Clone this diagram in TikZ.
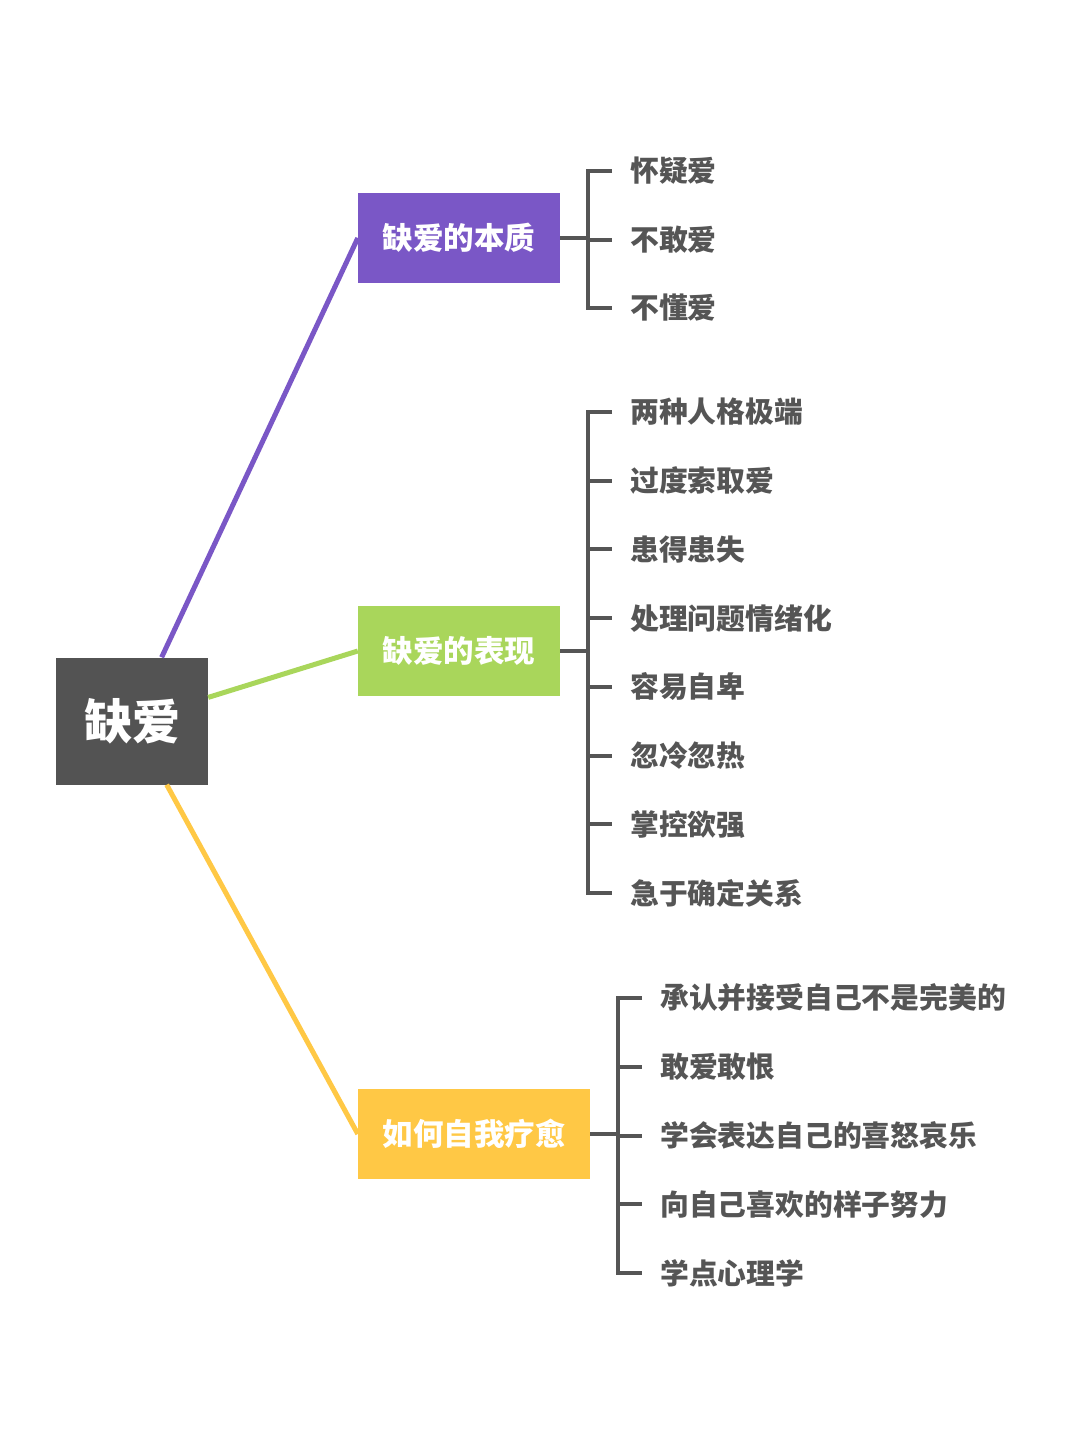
\documentclass[tikz,border=0pt]{standalone}
\usepackage{fontspec}
\setmainfont{Noto Sans CJK SC}

\definecolor{rootgray}{HTML}{535353}
\definecolor{itemgray}{HTML}{555555}
\definecolor{lovepurple}{HTML}{7A57C6}
\definecolor{lovegreen}{HTML}{A9D65B}
\definecolor{loveyellow}{HTML}{FFC845}

\tikzset{
	topic/.style = {fill = #1, text = white, inner sep = 0pt,
		minimum height = 90pt, font = \bfseries\fontsize{30.5}{30.5}\selectfont},
	item/.style = {anchor = west, text = itemgray, inner xsep = 18pt, inner ysep = 0pt,
		font = \bfseries\fontsize{28.8}{28.8}\selectfont},
	branch/.style = {draw = #1, line width = 5pt},
	bracket/.style = {draw = itemgray, line width = 4pt}
}

\begin{document}
\begin{tikzpicture}[x = 1pt, y = -1pt]

	\useasboundingbox (0, 0) rectangle (1080, 1440);

	% Root and topics

	\node [fill = rootgray, text = white, minimum width = 152pt, minimum height = 127pt,
		font = \bfseries\fontsize{48}{48}\selectfont] (root) at (132, 721) {缺爱};

	\node [topic = lovepurple, minimum width = 202pt] (essence) at (459, 238) {缺爱的本质};
	\node [topic = lovegreen, minimum width = 202pt] (signs) at (459, 651) {缺爱的表现};
	\node [topic = loveyellow, minimum width = 232pt] (heal) at (474, 1134) {如何自我疗愈};

	% Branches

	\draw [branch = lovepurple] (root) -- (essence.west);
	\draw [branch = lovegreen] (root) -- (signs.west);
	\draw [branch = loveyellow] (root) -- (heal.west);

	% Items

	\foreach \t [count = \i] in {怀疑爱, 不敢爱, 不懂爱}
		\node [item] (essence\i) at (612, {171 + 68.5 * (\i - 1)}) {\t};

	\foreach \t [count = \i] in {两种人格极端, 过度索取爱, 患得患失, 处理问题情绪化,
			容易自卑, 忽冷忽热, 掌控欲强, 急于确定关系}
		\node [item] (signs\i) at (612, {412 + 68.7 * (\i - 1)}) {\t};

	\foreach \t [count = \i] in {承认并接受自己不是完美的, 敢爱敢恨, 学会表达自己的喜怒哀乐,
			向自己喜欢的样子努力, 学点心理学}
		\node [item] (heal\i) at (642, {998 + 68.75 * (\i - 1)}) {\t};

	% Brackets

	\coordinate (essenceSpine) at ([xshift = 28pt] essence.east);
	\draw [bracket] (essence.east) -- (essenceSpine);
	\draw [bracket] (essence1.west) -| (essenceSpine) |- (essence3.west);
	\draw [bracket] (essenceSpine |- essence2.west) -- (essence2.west);

	\coordinate (signsSpine) at ([xshift = 28pt] signs.east);
	\draw [bracket] (signs.east) -- (signsSpine);
	\draw [bracket] (signs1.west) -| (signsSpine) |- (signs8.west);
	\foreach \i in {2, ..., 7}
		\draw [bracket] (signsSpine |- signs\i.west) -- (signs\i.west);

	\coordinate (healSpine) at ([xshift = 28pt] heal.east);
	\draw [bracket] (heal.east) -- (healSpine);
	\draw [bracket] (heal1.west) -| (healSpine) |- (heal5.west);
	\foreach \i in {2, 3, 4}
		\draw [bracket] (healSpine |- heal\i.west) -- (heal\i.west);

\end{tikzpicture}
\end{document}
